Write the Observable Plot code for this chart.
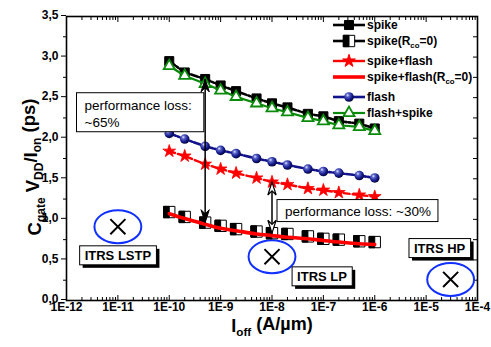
<!DOCTYPE html>
<html>
<head>
<meta charset="utf-8">
<script src="https://cdn.jsdelivr.net/npm/d3@7"></script>
<script src="https://cdn.jsdelivr.net/npm/@observablehq/plot@0.6"></script>
<style>
  html, body { margin: 0; padding: 0; background: #fff; }
  #chart svg { display: block; }
</style>
</head>
<body>
<div id="chart"></div>
<script>
// Off-state current (A/µm) at which each device variant was evaluated
const ioff = [1e-10, 2e-10, 5e-10, 1e-9, 2e-9, 5e-9, 1e-8, 2e-8, 5e-8, 1e-7, 2e-7, 5e-7, 1e-6];

// Intrinsic delay C_gate·V_DD/I_on (ps) per annealing variant
const spike          = [2.95, 2.81, 2.73, 2.65, 2.58, 2.49, 2.43, 2.38, 2.30, 2.27, 2.21, 2.18, 2.12];
const spikeRco0      = [1.09, 1.03, 0.96, 0.92, 0.88, 0.85, 0.83, 0.82, 0.79, 0.76, 0.75, 0.73, 0.72];
const spikeFlash     = [1.84, 1.78, 1.68, 1.62, 1.57, 1.51, 1.46, 1.43, 1.38, 1.36, 1.33, 1.30, 1.28];
const spikeFlashRco0 = [1.07, 1.01, 0.94, 0.89, 0.86, 0.82, 0.80, 0.78, 0.76, 0.74, 0.72, 0.70, 0.69];
const flash          = [2.06, 1.99, 1.90, 1.85, 1.81, 1.75, 1.71, 1.67, 1.62, 1.59, 1.57, 1.54, 1.51];
const flashSpike     = [2.89, 2.77, 2.67, 2.59, 2.51, 2.43, 2.37, 2.32, 2.25, 2.21, 2.16, 2.14, 2.09];

// ITRS targets
const itrsNames = ["ITRS LSTP", "ITRS LP", "ITRS HP"];
const itrsIoff  = [1e-11, 1e-8, 3e-5];
const itrsDelay = [0.91, 0.54, 0.26];

// Axis ticks
const xDecades = d3.range(-12, -3).map(e => +`1e${e}`);
const xMinor = d3.range(-12, -4).flatMap(e => d3.range(2, 10).map(k => +`${k}e${e}`));
const yMajor = [0, 0.5, 1, 1.5, 2, 2.5, 3, 3.5];
const yMinor = [0.25, 0.75, 1.25, 1.75, 2.25, 2.75, 3.25];

// Performance-loss annotations
const lossText = ["performance loss:\n~65%", "performance loss: ~30%"];

const rows = ioff.map((x, i) => ({
  x, spike: spike[i], spikeRco0: spikeRco0[i], spikeFlash: spikeFlash[i],
  spikeFlashRco0: spikeFlashRco0[i], flash: flash[i], flashSpike: flashSpike[i]
}));
const itrs = itrsNames.map((name, i) => ({name, x: itrsIoff[i], y: itrsDelay[i]}));

const FONT = "'Liberation Sans', Arial, Helvetica, sans-serif";
const NAVY = "#12128a";
const GREEN = "#0a8a0a";
const RED = "#ff0000";

// Custom symbols
const halfLeftSquare = {
  draw(ctx, size) { const w = Math.sqrt(size); ctx.rect(-w / 2, -w / 2, w / 2, w); }
};
const ellipse = {
  draw(ctx, size) {
    const ry = Math.sqrt(size / Math.PI), rx = ry * 1.42, k = 0.5523;
    ctx.moveTo(rx, 0);
    ctx.bezierCurveTo(rx, ry * k, rx * k, ry, 0, ry);
    ctx.bezierCurveTo(-rx * k, ry, -rx, ry * k, -rx, 0);
    ctx.bezierCurveTo(-rx, -ry * k, -rx * k, -ry, 0, -ry);
    ctx.bezierCurveTo(rx * k, -ry, rx, -ry * k, rx, 0);
    ctx.closePath();
  }
};
// Barbed arrowhead with its tip at the anchor point, pointing up
const arrowHead = {
  draw(ctx, size) {
    const s = Math.sqrt(size);
    ctx.moveTo(0, 0);
    ctx.lineTo(0.32 * s, s);
    ctx.lineTo(0, 0.68 * s);
    ctx.lineTo(-0.32 * s, s);
    ctx.closePath();
  }
};

const loss1 = [{x: ioff[2], y1: spike[2], y2: spikeRco0[2]}];
const loss2 = [{x: ioff[6], y1: spikeFlash[6], y2: spikeRco0[6]}];

const xFmt = d => "1E" + Math.round(Math.log10(d));
const yFmt = d => d.toFixed(1).replace(".", ",");

const plot = Plot.plot({
  width: 491,
  height: 347,
  marginLeft: 66,
  marginRight: 14,
  marginTop: 16,
  marginBottom: 47,
  style: {fontFamily: FONT, background: "#fff", color: "#000", overflow: "visible"},
  x: {type: "log", domain: [1e-12, 1e-4], axis: null},
  y: {domain: [0, 3.5], axis: null},
  marks: [
    // axes: outward ticks on the left, inward ticks elsewhere
    Plot.axisY(yMajor, {anchor: "left", tickSize: 5, tickPadding: 3, tickFormat: yFmt, fontWeight: "bold", fontSize: 12, label: null, dy: -1}),
    Plot.axisY(yMinor, {anchor: "left", tickSize: 3, fill: "none", label: null}),
    Plot.axisY(yMajor.concat(yMinor), {anchor: "right", tickSize: 5, insetRight: 5, fill: "none", label: null}),
    Plot.axisX(xDecades, {anchor: "bottom", tickSize: 0, tickPadding: 2, tickFormat: xFmt, fontWeight: "bold", fontSize: 12, label: null}),
    Plot.axisX(xDecades, {anchor: "bottom", tickSize: 5, insetBottom: 5, fill: "none", label: null}),
    Plot.axisX(xMinor, {anchor: "bottom", tickSize: 3, insetBottom: 3, fill: "none", label: null}),
    Plot.axisX(xDecades, {anchor: "top", tickSize: 5, insetTop: 5, fill: "none", label: null}),
    Plot.axisX(xMinor, {anchor: "top", tickSize: 3, insetTop: 3, fill: "none", label: null}),
    Plot.frame({stroke: "#000", strokeWidth: 1.6}),

    // ITRS targets
    Plot.dot(itrs, {x: "x", y: "y", symbol: ellipse, r: 16.5, fill: "none", stroke: "#1030ff", strokeWidth: 2}),
    Plot.dot(itrs, {x: "x", y: "y", symbol: "times", r: 6.9, stroke: "#000", strokeWidth: 2}),

    // spike
    Plot.line(rows, {x: "x", y: "spike", stroke: "#000", strokeWidth: 2.6, strokeDasharray: "7,2,2,2"}),
    Plot.dot(rows, {x: "x", y: "spike", symbol: "square", r: 5.1, fill: "#000", stroke: "#000", strokeWidth: 1}),

    // flash + spike
    Plot.line(rows, {x: "x", y: "flashSpike", stroke: GREEN, strokeWidth: 2.2}),
    Plot.dot(rows, {x: "x", y: "flashSpike", symbol: "triangle", r: 4.1, fill: "#fff", stroke: GREEN, strokeWidth: 1.8}),

    // flash
    Plot.line(rows, {x: "x", y: "flash", stroke: NAVY, strokeWidth: 2.6, strokeDasharray: "7,2,2,2"}),
    Plot.dot(rows, {x: "x", y: "flash", r: 4.8, fill: "url(#ball)", stroke: "none"}),

    // spike + flash
    Plot.line(rows, {x: "x", y: "spikeFlash", stroke: RED, strokeWidth: 2.4, strokeDasharray: "6,3"}),
    Plot.dot(rows, {x: "x", y: "spikeFlash", symbol: "star", r: 4.0, fill: RED, stroke: RED, strokeWidth: 0.8}),

    // spike, R_co = 0 (half-filled squares)
    Plot.dot(rows, {x: "x", y: "spikeRco0", symbol: "square", r: 6.4, fill: "#fff", stroke: "#000", strokeWidth: 1}),
    Plot.dot(rows, {x: "x", y: "spikeRco0", symbol: halfLeftSquare, r: 6.4, fill: "#000", stroke: "#000", strokeWidth: 1}),

    // spike + flash, R_co = 0
    Plot.line(rows, {x: "x", y: "spikeFlashRco0", stroke: RED, strokeWidth: 3.6, curve: "monotone-x"}),

    // performance-loss arrows
    Plot.link(loss1, {x1: "x", x2: "x", y1: "y1", y2: "y2", stroke: "#000", strokeWidth: 1.5}),
    Plot.dot(loss1, {x: "x", y: "y1", symbol: arrowHead, r: 7.3, fill: "#000", stroke: "#000", strokeWidth: 1}),
    Plot.dot(loss1, {x: "x", y: "y2", symbol: arrowHead, r: 7.3, rotate: 180, fill: "#000", stroke: "#000", strokeWidth: 1}),
    Plot.link(loss2, {x1: "x", x2: "x", y1: "y1", y2: "y2", stroke: "#000", strokeWidth: 1.5}),
    Plot.dot(loss2, {x: "x", y: "y1", symbol: arrowHead, r: 7.3, fill: "#fff", stroke: "#000", strokeWidth: 1.2}),
    Plot.dot(loss2, {x: "x", y: "y2", symbol: arrowHead, r: 7.3, rotate: 180, fill: "#fff", stroke: "#000", strokeWidth: 1.2}),

    // annotations
    Plot.text([lossText[0]], {x: () => 1e-12, y: () => 2.5, text: d => d, dx: 18, textAnchor: "start", lineAnchor: "top", lineHeight: 1.26, fontSize: 13.5, className: "loss-box box-a"}),
    Plot.text([lossText[1]], {x: () => 1e-8, y: () => 1.1, text: d => d, dx: 13, textAnchor: "start", lineAnchor: "middle", fontSize: 13.5, className: "loss-box box-b"}),
    Plot.text(itrs.slice(0, 1), {x: "x", y: "y", text: "name", dy: 29, fontSize: 13, fontWeight: "bold", className: "itrs-box"}),
    Plot.text(itrs.slice(1, 2), {x: "x", y: "y", text: "name", dx: 50, dy: 20, fontSize: 13, fontWeight: "bold", className: "itrs-box"}),
    Plot.text(itrs.slice(2, 3), {x: "x", y: "y", text: "name", dx: -11, dy: -31, fontSize: 13, fontWeight: "bold", className: "itrs-box"})
  ]
});

document.getElementById("chart").append(plot);
const svg = d3.select(plot);

// shaded ball for the "flash" markers
const defs = svg.insert("defs", ":first-child");
const grad = defs.append("radialGradient").attr("id", "ball").attr("cx", "38%").attr("cy", "35%").attr("r", "65%").attr("fx", "35%").attr("fy", "30%");
grad.append("stop").attr("offset", "0%").attr("stop-color", "#e6e8ff");
grad.append("stop").attr("offset", "28%").attr("stop-color", "#5a64c8");
grad.append("stop").attr("offset", "70%").attr("stop-color", "#141a8c");
grad.append("stop").attr("offset", "100%").attr("stop-color", "#05053a");

// framed boxes behind annotation text
function boxes(selector, pad, shadow) {
  svg.selectAll(selector + " text").each(function () {
    const b = this.getBBox();
    const t = this.getAttribute("transform");
    const parent = this.parentNode;
    const x = b.x - pad.l, y = b.y - pad.t, w = b.width + pad.l + pad.r, h = b.height + pad.t + pad.b;
    if (shadow) {
      const s = d3.create("svg:rect").attr("x", x + 3).attr("y", y + 3).attr("width", w).attr("height", h).attr("fill", "#000");
      if (t) s.attr("transform", t);
      parent.insertBefore(s.node(), this);
    }
    const r = d3.create("svg:rect").attr("x", x).attr("y", y).attr("width", w).attr("height", h)
      .attr("fill", "#fff").attr("stroke", "#000").attr("stroke-width", 1);
    if (t) r.attr("transform", t);
    parent.insertBefore(r.node(), this);
  });
}
boxes("g.box-a", {l: 8, r: 12, t: 5, b: 2}, false);
boxes("g.box-b", {l: 8, r: 7, t: 4, b: 3}, false);
boxes("g.itrs-box", {l: 5, r: 5, t: 2, b: 2}, true);

// axis titles with subscripts
function sub(t, s) {
  t.append("tspan").attr("font-size", "0.65em").attr("dy", "0.3em").text(s);
  return t.append("tspan").attr("dy", "-0.3em").attr("font-size", "1em");
}
const ylab = svg.append("text")
  .attr("transform", "translate(41,167) rotate(-90)")
  .attr("text-anchor", "middle")
  .attr("font-family", FONT).attr("font-weight", "bold").attr("font-size", 18.5).attr("fill", "#000");
ylab.append("tspan").text("C");
sub(ylab, "gate").text(" V");
sub(ylab, "DD").text("/I");
sub(ylab, "on").text(" (ps)");

const xlab = svg.append("text")
  .attr("x", 272).attr("y", 332)
  .attr("text-anchor", "middle")
  .attr("font-family", FONT).attr("font-weight", "bold").attr("font-size", 18).attr("fill", "#000");
xlab.append("tspan").text("I");
sub(xlab, "off").text(" (A/\u00b5m)");

// legend
const legendItems = [
  {label: ["spike"], stroke: "#000", w: 2.6, sym: [{type: d3.symbolSquare, r: 5.1, fill: "#000", stroke: "#000"}]},
  {label: ["spike(R", "co", "=0)"], stroke: "#000", w: 2.6, sym: [
    {type: d3.symbolSquare, r: 6.4, fill: "#fff", stroke: "#000"},
    {type: halfLeftSquare, r: 6.4, fill: "#000", stroke: "#000"}]},
  {label: ["spike+flash"], stroke: RED, w: 2.4, sym: [{type: d3.symbolStar, r: 4.0, fill: RED, stroke: RED}]},
  {label: ["spike+flash(R", "co", "=0)"], stroke: RED, w: 3.6, sym: []},
  {label: ["flash"], stroke: NAVY, w: 2.6, sym: [{type: d3.symbolCircle, r: 4.8, fill: "url(#ball)", stroke: "none"}]},
  {label: ["flash+spike"], stroke: GREEN, w: 2.2, sym: [{type: d3.symbolTriangle, r: 4.1, fill: "#fff", stroke: GREEN, sw: 1.8}]}
];
const legendY = [25, 41, 61, 77, 97, 113];
const lg = svg.append("g").attr("font-family", FONT).attr("font-weight", "bold").attr("font-size", 12).attr("text-anchor", "start");
legendItems.forEach((it, i) => {
  const g = lg.append("g").attr("transform", `translate(349,${legendY[i]})`);
  g.append("line").attr("x1", -16).attr("x2", 16).attr("stroke", it.stroke).attr("stroke-width", it.w);
  it.sym.forEach(s => {
    g.append("path").attr("d", d3.symbol(s.type, s.r * s.r * Math.PI)())
      .attr("fill", s.fill).attr("stroke", s.stroke).attr("stroke-width", s.sw || 1);
  });
  const t = g.append("text").attr("x", 18).attr("dy", "0.36em").attr("fill", "#000").attr("text-anchor", "start");
  t.append("tspan").text(it.label[0]);
  if (it.label.length > 1) {
    t.append("tspan").attr("font-size", "0.65em").attr("dy", "0.35em").text(it.label[1]);
    t.append("tspan").attr("dy", "-0.23em").text(it.label[2]);
  }
});
</script>
</body>
</html>
